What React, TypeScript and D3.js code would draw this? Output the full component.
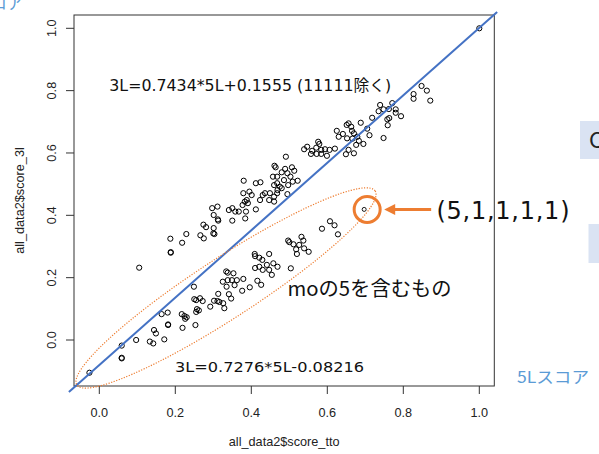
import React from "react";
import * as d3 from "d3";

// ---- data ----
const xTicks = [0, 0.2, 0.4, 0.6, 0.8, 1.0];
const yTicks = [0, 0.2, 0.4, 0.6, 0.8, 1.0];

// upper band (excluding 11111 point group that contain mo=5)
const upperBand: [number, number][] = [
  [1.0, 1.0], [0.848, 0.815], [0.862, 0.8], [0.871, 0.768], [0.827, 0.789], [0.827, 0.774],
  [0.739, 0.754], [0.735, 0.734], [0.748, 0.74], [0.771, 0.76], [0.762, 0.741], [0.78, 0.74],
  [0.78, 0.729], [0.794, 0.718], [0.763, 0.712], [0.758, 0.708], [0.759, 0.689], [0.718, 0.713],
  [0.748, 0.648], [0.688, 0.697], [0.705, 0.678], [0.656, 0.695], [0.651, 0.69], [0.663, 0.684],
  [0.665, 0.671], [0.67, 0.663], [0.625, 0.671], [0.63, 0.652], [0.641, 0.661], [0.652, 0.647],
  [0.666, 0.646], [0.679, 0.652], [0.683, 0.639], [0.711, 0.657], [0.676, 0.626], [0.695, 0.629],
  [0.656, 0.61], [0.67, 0.599], [0.649, 0.596], [0.62, 0.614], [0.576, 0.636], [0.579, 0.629],
  [0.539, 0.612], [0.547, 0.62], [0.56, 0.607], [0.571, 0.617], [0.584, 0.61], [0.594, 0.612],
  [0.606, 0.61], [0.557, 0.597], [0.572, 0.597], [0.584, 0.597], [0.599, 0.591], [0.491, 0.588],
  [0.461, 0.559], [0.464, 0.554], [0.489, 0.549], [0.507, 0.554], [0.513, 0.543], [0.48, 0.538],
  [0.457, 0.524], [0.468, 0.524], [0.495, 0.535], [0.503, 0.524], [0.486, 0.513], [0.509, 0.508],
  [0.522, 0.511], [0.468, 0.503], [0.475, 0.492], [0.48, 0.487], [0.46, 0.497], [0.497, 0.497],
  [0.495, 0.468], [0.469, 0.481], [0.468, 0.471], [0.46, 0.46], [0.449, 0.471], [0.436, 0.471],
  [0.43, 0.465], [0.447, 0.449], [0.46, 0.444], [0.423, 0.449], [0.412, 0.503], [0.424, 0.506],
  [0.38, 0.511], [0.379, 0.471], [0.395, 0.476], [0.401, 0.465], [0.388, 0.449], [0.383, 0.444],
  [0.391, 0.439], [0.377, 0.433], [0.412, 0.419], [0.386, 0.412], [0.384, 0.39], [0.367, 0.412],
  [0.358, 0.412], [0.35, 0.423], [0.341, 0.417], [0.35, 0.383], [0.311, 0.428], [0.297, 0.423],
  [0.301, 0.401], [0.312, 0.387], [0.313, 0.383], [0.274, 0.37], [0.281, 0.362], [0.301, 0.359],
  [0.3, 0.342], [0.266, 0.336], [0.229, 0.34], [0.187, 0.325], [0.188, 0.28], [0.188, 0.282],
  [0.218, 0.312], [0.275, 0.326], [0.303, 0.34], [0.105, 0.232],
];

// lower band (mo = 5)
const lowerBand: [number, number][] = [
  [-0.026, -0.105], [0.059, -0.018], [0.059, -0.059], [0.059, -0.057], [0.097, 0.0], [0.133, -0.005],
  [0.142, -0.011], [0.144, 0.032], [0.149, 0.021], [0.171, 0.002], [0.164, 0.083], [0.18, 0.088],
  [0.181, 0.048], [0.181, 0.05], [0.217, 0.083], [0.224, 0.077], [0.23, 0.073], [0.226, 0.068],
  [0.219, 0.039], [0.249, 0.171], [0.253, 0.048], [0.25, 0.131], [0.255, 0.128], [0.265, 0.134],
  [0.272, 0.125], [0.257, 0.099], [0.262, 0.095], [0.255, 0.09], [0.292, 0.107], [0.302, 0.126],
  [0.311, 0.125], [0.316, 0.122], [0.329, 0.102], [0.313, 0.148], [0.326, 0.118], [0.341, 0.147],
  [0.347, 0.133], [0.334, 0.22], [0.338, 0.216], [0.353, 0.214], [0.325, 0.187], [0.338, 0.192],
  [0.349, 0.192], [0.362, 0.192], [0.379, 0.196], [0.356, 0.176], [0.376, 0.158], [0.396, 0.169],
  [0.416, 0.19], [0.426, 0.177], [0.335, 0.171], [0.41, 0.269], [0.421, 0.264], [0.447, 0.276],
  [0.429, 0.257], [0.409, 0.276], [0.41, 0.231], [0.421, 0.235], [0.43, 0.225], [0.441, 0.241],
  [0.458, 0.246], [0.469, 0.235], [0.447, 0.225], [0.454, 0.209], [0.504, 0.23], [0.497, 0.319],
  [0.5, 0.314], [0.532, 0.331], [0.537, 0.319], [0.511, 0.307], [0.526, 0.305], [0.539, 0.294],
  [0.551, 0.283], [0.518, 0.291], [0.52, 0.276], [0.607, 0.381], [0.619, 0.368], [0.586, 0.357],
  [0.628, 0.339],
];

const highlightPoint: [number, number] = [0.697, 0.419];
const refLine: [number, number][] = [[-0.08, -0.167], [1.047, 1.052]];
const ellipseEnds: [number, number][] = [[-0.059, -0.144], [0.726, 0.478]];

const eqUpper = "3L=0.7434*5L+0.1555 (11111除く)";
const eqLower = "3L=0.7276*5L-0.08216";
const groupLabel = "moの5を含むもの";
const pointLabel = "(5,1,1,1,1)";
const xTitle = "all_data2$score_tto";
const yTitle = "all_data2$score_3l";

export default function App() {
  const W = 599, H = 454;
  const box = { left: 74, right: 494.3, top: 15, bottom: 386 };
  const x = d3.scaleLinear().domain([0, 1]).range([99.3, 479.3]);
  const y = d3.scaleLinear().domain([0, 1]).range([340, 28.3]);
  const fmt = d3.format(".1f");
  const line = d3.line<[number, number]>().x((d) => x(d[0])).y((d) => y(d[1]));

  const e1 = [x(ellipseEnds[0][0]), y(ellipseEnds[0][1])];
  const e2 = [x(ellipseEnds[1][0]), y(ellipseEnds[1][1])];
  const ecx = (e1[0] + e2[0]) / 2, ecy = (e1[1] + e2[1]) / 2;
  const erx = Math.hypot(e2[0] - e1[0], e2[1] - e1[1]) / 2;
  const eang = (Math.atan2(e2[1] - e1[1], e2[0] - e1[0]) * 180) / Math.PI;

  const hx = x(highlightPoint[0]), hy = y(highlightPoint[1]);
  const orange = "#ED7D31";
  const axisFont = "'Liberation Sans', Arial, sans-serif";
  const jpFont = "'Noto Sans CJK JP', sans-serif";
  const eqFont = "'DejaVu Sans', 'Noto Sans CJK JP', sans-serif";

  const arrowStart = hx + 67, arrowTip = hx + 20;

  return (
    <svg width={W} height={H} style={{ position: "absolute", left: 0, top: 0, background: "#fff" }}>
      {/* side decorations */}
      <text x={23} y={9} textAnchor="end" fontFamily={jpFont} fontSize={16} fill="#5B9BD5">3Lスコア</text>
      <rect x={580} y={121} width={19} height={38} fill="#DAE3F3" />
      <text x={589} y={148} fontFamily={jpFont} fontSize={22} fill="#222">C</text>
      <rect x={588.5} y={224} width={10.5} height={39} fill="#DAE3F3" />
      <text x={517} y={383} fontFamily={jpFont} fontSize={16} fill="#5B9BD5" textLength={72} lengthAdjust="spacingAndGlyphs">5Lスコア</text>

      {/* plot box */}
      <rect x={box.left} y={box.top} width={box.right - box.left} height={box.bottom - box.top} fill="none" stroke="#333" strokeWidth={1} />

      {/* x axis */}
      {xTicks.map((t) => (
        <g key={"x" + t}>
          <line x1={x(t)} x2={x(t)} y1={box.bottom} y2={box.bottom + 8} stroke="#333" />
          <text x={x(t)} y={417} textAnchor="middle" fontFamily={axisFont} fontSize={12.7} fill="#222">{fmt(t)}</text>
        </g>
      ))}
      {/* y axis */}
      {yTicks.map((t) => (
        <g key={"y" + t}>
          <line x1={box.left - 8} x2={box.left} y1={y(t)} y2={y(t)} stroke="#333" />
          <text transform={`translate(55.5,${y(t)}) rotate(-90)`} textAnchor="middle" fontFamily={axisFont} fontSize={12.7} fill="#222">{fmt(t)}</text>
        </g>
      ))}
      <text x={(box.left + box.right) / 2} y={446} textAnchor="middle" fontFamily={axisFont} fontSize={12.7} fill="#222">{xTitle}</text>
      <text transform={`translate(24,${(box.top + box.bottom) / 2}) rotate(-90)`} textAnchor="middle" fontFamily={axisFont} fontSize={12.7} fill="#222">{yTitle}</text>

      {/* points */}
      {upperBand.concat(lowerBand).map((d, i) => (
        <circle key={i} cx={x(d[0])} cy={y(d[1])} r={2.6} fill="none" stroke="#000" strokeWidth={1} />
      ))}
      <circle cx={hx} cy={hy} r={2} fill="none" stroke="#000" strokeWidth={0.9} />

      {/* reference line */}
      <path d={line(refLine) || ""} fill="none" stroke="#4472C4" strokeWidth={2} />

      {/* dotted ellipse */}
      <ellipse cx={ecx} cy={ecy} rx={erx} ry={30} transform={`rotate(${eang} ${ecx} ${ecy})`} fill="none" stroke={orange} strokeWidth={1.2} strokeDasharray="1.2 1.5" />

      {/* highlight circle + arrow */}
      <circle cx={hx + 3} cy={hy} r={13} fill="none" stroke={orange} strokeWidth={3} />
      <line x1={arrowStart} x2={arrowTip + 9} y1={hy} y2={hy} stroke={orange} strokeWidth={3} />
      <path d={`M${arrowTip},${hy} L${arrowTip + 11},${hy - 5.5} L${arrowTip + 11},${hy + 5.5} Z`} fill={orange} />

      {/* annotations */}
      <text x={436.5} y={218.5} fontFamily="'DejaVu Sans', sans-serif" fontSize={24} fill="#111" textLength={133} lengthAdjust="spacing">{pointLabel}</text>
      <text x={109.3} y={90.7} fontFamily={eqFont} fontSize={15.5} fill="#111" textLength={282} lengthAdjust="spacingAndGlyphs">{eqUpper}</text>
      <text x={175} y={371.7} fontFamily={eqFont} fontSize={14} fill="#111" textLength={189} lengthAdjust="spacingAndGlyphs">{eqLower}</text>
      <text x={287.5} y={296} fontFamily={jpFont} fontSize={20} fill="#111" textLength={164} lengthAdjust="spacingAndGlyphs">{groupLabel}</text>
    </svg>
  );
}
